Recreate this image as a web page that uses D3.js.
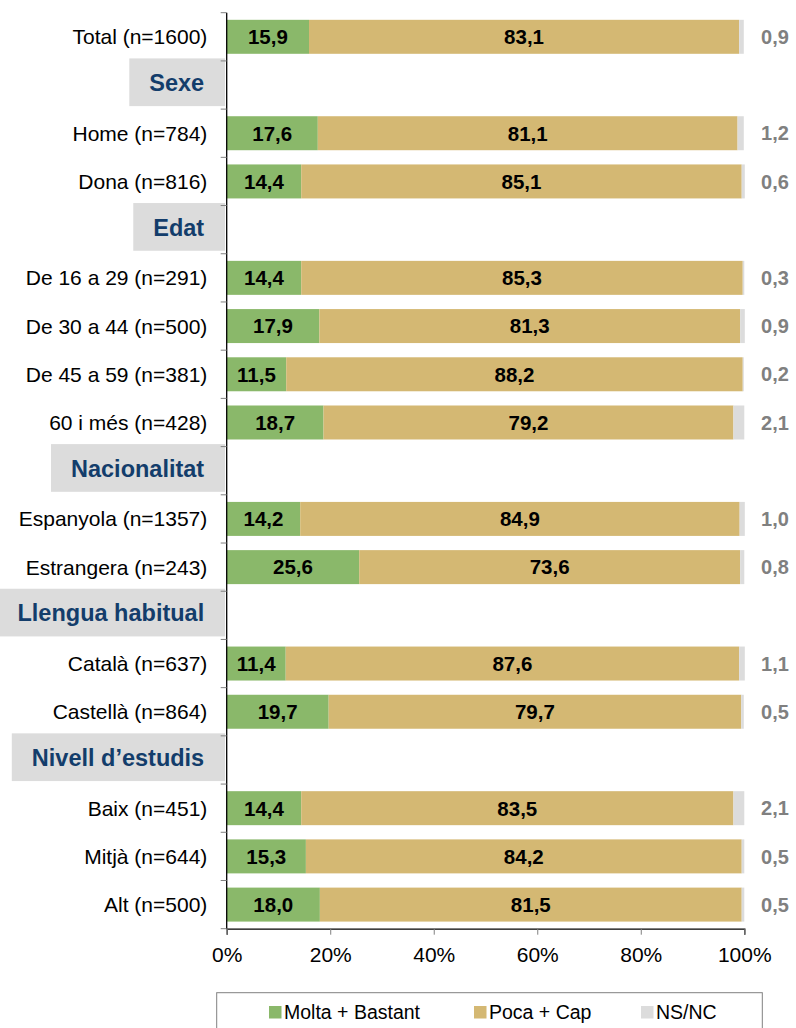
<!DOCTYPE html>
<html>
<head>
<meta charset="utf-8">
<script src="https://cdn.jsdelivr.net/npm/d3@7"></script>
<style>
  body { margin: 0; background: #fff; }
  text { font-family: "Liberation Sans", Arial, sans-serif; }
</style>
</head>
<body>
<div id="chart"></div>
<script>
// rows top to bottom; header rows have null values
var categories = ["Total (n=1600)", "Sexe", "Home (n=784)", "Dona (n=816)", "Edat",
    "De 16 a 29 (n=291)", "De 30 a 44 (n=500)", "De 45 a 59 (n=381)", "60 i més (n=428)",
    "Nacionalitat", "Espanyola (n=1357)", "Estrangera (n=243)", "Llengua habitual",
    "Català (n=637)", "Castellà (n=864)", "Nivell d\u2019estudis", "Baix (n=451)",
    "Mitjà (n=644)", "Alt (n=500)"];
var headers = ["Sexe", "Edat", "Nacionalitat", "Llengua habitual", "Nivell d\u2019estudis"];
var molta = [15.9, null, 17.6, 14.4, null, 14.4, 17.9, 11.5, 18.7, null, 14.2, 25.6, null, 11.4, 19.7, null, 14.4, 15.3, 18.0];
var poca = [83.1, null, 81.1, 85.1, null, 85.3, 81.3, 88.2, 79.2, null, 84.9, 73.6, null, 87.6, 79.7, null, 83.5, 84.2, 81.5];
var nsnc = [0.9, null, 1.2, 0.6, null, 0.3, 0.9, 0.2, 2.1, null, 1.0, 0.8, null, 1.1, 0.5, null, 2.1, 0.5, 0.5];
var seriesNames = ["Molta + Bastant", "Poca + Cap", "NS/NC"];
var xTicks = [0, 20, 40, 60, 80, 100];

var colors = ["#8ab86a", "#d4b873", "#dcdcdc"];
var W = 796, H = 1028;
var margin = { top: 12.7, left: 226.7 };
var plotW = 744.3 - margin.left;
var plotH = 928.7 - margin.top;

var svg = d3.select("#chart").append("svg")
    .attr("width", W).attr("height", H);

var g = svg.append("g")
    .attr("transform", "translate(" + margin.left + "," + margin.top + ")");

var x = d3.scaleLinear().domain([0, 100]).range([0, plotW]);
var y = d3.scaleBand().domain(categories).range([0, plotH]).paddingInner(0.295).paddingOuter(0.1475);
var band = d3.scaleBand().domain(categories).range([0, plotH]);

var fmt = function (v) { return v.toFixed(1).replace(".", ","); };

var rows = categories.map(function (c, i) {
    return { cat: c, vals: [molta[i], poca[i], nsnc[i]] };
});

// header boxes
var hdr = g.selectAll(".hdr").data(headers).enter().append("g").attr("class", "hdr");
hdr.append("text")
    .attr("x", -22.5)
    .attr("y", d => band(d) + band.bandwidth() / 2 - 2.5)
    .attr("dy", "0.36em")
    .attr("text-anchor", "end")
    .style("font-size", "23.5px")
    .style("font-weight", "bold")
    .style("fill", "#133d6b")
    .text(d => d)
    .each(function (d) {
        var bb = this.getBBox();
        d3.select(this.parentNode).insert("rect", "text")
            .attr("x", bb.x - 20)
            .attr("y", band(d) - 2.5)
            .attr("width", -1.7 - (bb.x - 20))
            .attr("height", band.bandwidth() - 0.5)
            .style("fill", "#dcdcdc");
    });

// bars
var barRows = rows.filter(r => r.vals[0] !== null);
var rowG = g.selectAll(".row").data(barRows).enter().append("g").attr("class", "row");

rowG.each(function (r) {
    var acc = 0;
    var segs = r.vals.map(function (v, k) {
        var s = { x0: acc, x1: acc + v, v: v, k: k };
        acc += v;
        return s;
    });
    var sel = d3.select(this);
    sel.selectAll("rect").data(segs).enter().append("rect")
        .attr("x", s => x(s.x0))
        .attr("width", s => x(s.x1) - x(s.x0))
        .attr("y", y(r.cat))
        .attr("height", y.bandwidth())
        .style("fill", s => colors[s.k]);
    sel.selectAll("text.in").data(segs.slice(0, 2)).enter().append("text")
        .attr("class", "in")
        .attr("x", s => x((s.x0 + s.x1) / 2))
        .attr("y", y(r.cat) + y.bandwidth() / 2)
        .attr("dy", "0.36em")
        .attr("text-anchor", "middle")
        .style("font-size", "20.5px")
        .style("font-weight", "bold")
        .style("fill", "#000")
        .text(s => fmt(s.v));
    sel.append("text")
        .attr("x", 775 - margin.left)
        .attr("y", y(r.cat) + y.bandwidth() / 2)
        .attr("dy", "0.36em")
        .attr("text-anchor", "middle")
        .style("font-size", "20px")
        .style("font-weight", "bold")
        .style("fill", "#808080")
        .text(fmt(r.vals[2]));
});

// category labels
g.selectAll(".cat").data(barRows).enter().append("text")
    .attr("class", "cat")
    .attr("x", -19.4)
    .attr("y", r => band(r.cat) + band.bandwidth() / 2)
    .attr("dy", "0.36em")
    .attr("text-anchor", "end")
    .style("font-size", "21px")
    .style("fill", "#000")
    .text(r => r.cat);

// y axis line with ticks on band boundaries
var yAxisG = g.append("g");
yAxisG.append("line")
    .attr("x1", 0).attr("x2", 0).attr("y1", 0).attr("y2", plotH)
    .style("stroke", "#000").style("stroke-width", 1.3);
yAxisG.selectAll("line.tk").data(d3.range(categories.length + 1)).enter().append("line")
    .attr("class", "tk")
    .attr("x1", -6).attr("x2", 0)
    .attr("y1", i => i * band.step()).attr("y2", i => i * band.step())
    .style("stroke", "#808080").style("stroke-width", 1);

// x axis
var xAxis = d3.axisBottom(x).tickValues(xTicks).tickSize(6).tickPadding(12)
    .tickFormat(d => d + "%");
var xg = g.append("g")
    .attr("transform", "translate(0," + plotH + ")")
    .call(xAxis);
xg.select(".domain").style("stroke", "#000").style("stroke-width", 1.3);
xg.selectAll(".tick line").style("stroke", "#808080");
xg.selectAll(".tick text")
    .style("font-size", "21px")
    .style("font-family", "'Liberation Sans', Arial, sans-serif")
    .style("fill", "#000");

// legend
var leg = svg.append("g");
leg.append("rect")
    .attr("x", 216.7).attr("y", 992.7).attr("width", 545.6).attr("height", 45)
    .style("fill", "#fff").style("stroke", "#808080");
var legX = [269, 474, 641];
var li = leg.selectAll(".li").data(seriesNames).enter().append("g")
    .attr("transform", (d, i) => "translate(" + legX[i] + ",1006)");
li.append("rect").attr("width", 12.5).attr("height", 12.5).style("fill", (d, i) => colors[i]);
li.append("text").attr("x", 15).attr("y", 6.3).attr("dy", "0.36em")
    .style("font-size", "19.5px").style("fill", "#000").text(d => d);
</script>
</body>
</html>
